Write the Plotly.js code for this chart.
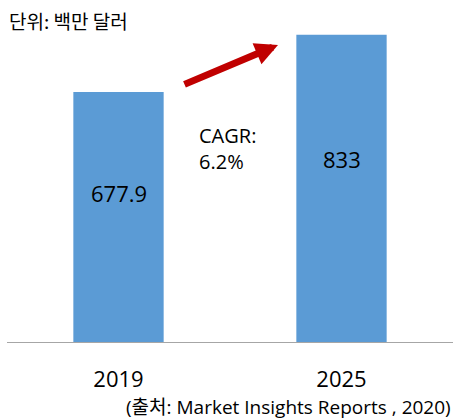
<!DOCTYPE html>
<html>
<head>
<meta charset="utf-8">
<script src="https://cdn.plot.ly/plotly-3.0.1.min.js"></script>
<style>html,body{margin:0;padding:0;background:#fff;}#chart{width:453px;height:420px;}</style>
</head>
<body>
<div id="chart"></div>
<script>
const years = ['2019', '2025'];
const values = [677.9, 833];
const valueLabels = ['677.9', '833'];
const unitText = '단위: 백만 달러';
const cagrText = 'CAGR:<br>6.2%';
const sourceText = '(출처: Market Insights Reports , 2020)';

const latin = '"Open Sans", "Noto Sans CJK KR", sans-serif';
const kr = '"Noto Sans CJK KR", "Open Sans", sans-serif';

const trace = {
  type: 'bar',
  x: years,
  y: values,
  marker: {color: '#5b9bd5'},
  width: 0.405,
  hoverinfo: 'none'
};

const annotations = years.map((yr, i) => ({
  x: i, y: values[i] * 0.595, xref: 'x', yref: 'y',
  text: valueLabels[i], showarrow: false,
  font: {family: latin, size: 22, color: '#000'},
  xanchor: 'center', yanchor: 'middle'
}));

annotations.push({
  xref: 'paper', yref: 'paper', x: 0.4255, y: 0.584,
  text: cagrText, showarrow: false, align: 'left',
  xanchor: 'left', yanchor: 'middle',
  font: {family: latin, size: 20, color: '#000'}
});

annotations.push({
  xref: 'paper', yref: 'paper', x: 0.6076, y: 0.8946,
  ax: -95, ay: 40, axref: 'pixel', ayref: 'pixel',
  text: '', showarrow: true, arrowhead: 2, arrowsize: 0.65,
  arrowwidth: 7, arrowcolor: '#c00000'
});

annotations.push({
  xref: 'paper', yref: 'paper', x: 0, y: 1, yshift: 5,
  text: unitText, showarrow: false, xanchor: 'left', yanchor: 'top',
  font: {family: kr, size: 19, color: '#000'}
});

annotations.push({
  xref: 'paper', yref: 'paper', x: 1, y: 0, yshift: -50,
  text: sourceText, showarrow: false, xanchor: 'right', yanchor: 'top',
  font: {family: latin, size: 19, color: '#000'}
});

const layout = {
  width: 453, height: 420,
  margin: {l: 7, r: 0, t: 10, b: 78},
  paper_bgcolor: '#fff', plot_bgcolor: '#fff',
  showlegend: false,
  xaxis: {
    type: 'category', range: [-0.5, 1.5], autorange: false,
    showline: true, linecolor: '#a6a6a6', linewidth: 1,
    showgrid: false, zeroline: false,
    ticks: '', ticklabelstandoff: 18,
    tickfont: {family: latin, size: 22, color: '#000'},
    fixedrange: true
  },
  yaxis: {
    range: [0, 900], autorange: false, visible: false, showgrid: false, zeroline: false, fixedrange: true
  },
  annotations: annotations
};

Plotly.newPlot('chart', [trace], layout, {displayModeBar: false, staticPlot: true});
</script>
</body>
</html>
